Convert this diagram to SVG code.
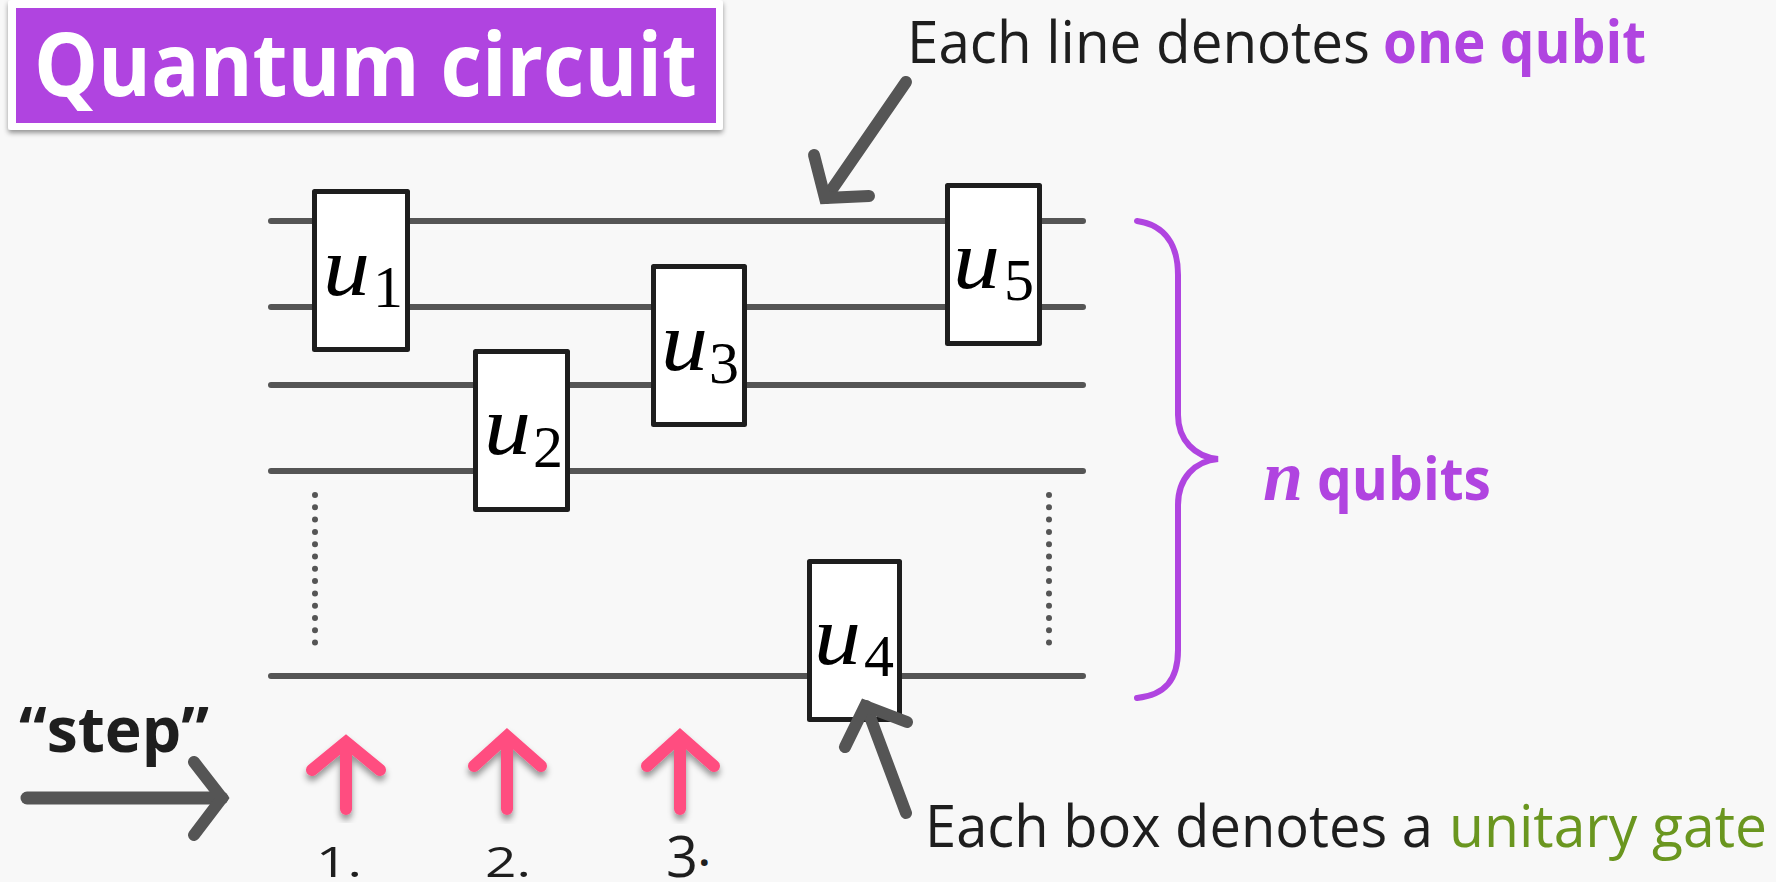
<svg xmlns="http://www.w3.org/2000/svg" width="1776" height="882" viewBox="0 0 1776 882">
<defs>
<filter id="panelShadow" x="-5%" y="-10%" width="110%" height="125%"><feDropShadow dx="0" dy="3" stdDeviation="2.5" flood-color="#000" flood-opacity="0.4"/></filter>
<filter id="pinkShadow" x="-40%" y="-20%" width="180%" height="140%"><feDropShadow dx="0" dy="5" stdDeviation="3" flood-color="#000" flood-opacity="0.4"/></filter>
</defs>
<style>
.bg{fill:#f8f8f8}
.wire{stroke:#555;stroke-width:6;stroke-linecap:round;fill:none}
.dots{stroke:#555;stroke-width:6;stroke-linecap:round;stroke-dasharray:0 12.3;fill:none}
.gate{fill:#fff;stroke:#1e1e1e;stroke-width:5;stroke-linejoin:round}
.arrow{stroke:#555;stroke-width:12;stroke-linecap:round;stroke-linejoin:miter;stroke-miterlimit:10;fill:none}
.pink{stroke:#ff4d80;stroke-width:12;stroke-linecap:round;stroke-linejoin:miter;stroke-miterlimit:10;fill:none;filter:url(#pinkShadow)}
.brace{stroke:#b044e0;stroke-width:6;stroke-linecap:round;fill:none}
.t{font-family:"Open Sans","Noto Sans",sans-serif;fill:#1e1e1e}
.u{font-family:"Liberation Serif",serif;font-style:italic;font-size:84px;fill:#000}
.s{font-family:"Liberation Serif",serif;font-size:60px;fill:#000}
.p{font-weight:700}
</style>
<rect class="bg" width="1776" height="882"/>
<g id="title">
<rect x="8" y="0" width="715" height="130" rx="3" fill="#fff" filter="url(#panelShadow)"/>
<rect x="16" y="8" width="700" height="115" fill="#b044e0"/>
<text class="t" x="34" y="96" font-size="88" font-weight="700" style="fill:#fff" textLength="663" lengthAdjust="spacingAndGlyphs">Quantum circuit</text>
</g>
<g id="connectors">
<path class="wire" d="M271 221H1083M271 307H1083M271 385H1083M271 471H1083M271 676H1083"/>
<path class="dots" d="M315 495V648M1049 495V648"/>
</g>
<g id="u1"><rect class="gate" x="314.500" y="191.500" width="93" height="158"/><text class="u" x="323" y="295" textLength="47" lengthAdjust="spacingAndGlyphs">u</text><text class="s" x="373" y="307">1</text></g>
<g id="u2"><rect class="gate" x="475.500" y="351.500" width="92" height="158"/><text class="u" x="484" y="454" textLength="47" lengthAdjust="spacingAndGlyphs">u</text><text class="s" x="533" y="467">2</text></g>
<g id="u3"><rect class="gate" x="653.500" y="266.500" width="91" height="158"/><text class="u" x="661" y="370" textLength="47" lengthAdjust="spacingAndGlyphs">u</text><text class="s" x="709" y="383">3</text></g>
<g id="u4"><rect class="gate" x="809.500" y="561.500" width="90" height="158"/><text class="u" x="814" y="664" textLength="47" lengthAdjust="spacingAndGlyphs">u</text><text class="s" x="864" y="676">4</text></g>
<g id="u5"><rect class="gate" x="947.500" y="185.500" width="92" height="158"/><text class="u" x="953" y="288" textLength="47" lengthAdjust="spacingAndGlyphs">u</text><text class="s" x="1004" y="300">5</text></g>
<g id="annotations">
<path class="brace" d="M1137 221C1165 225 1178 245 1178 275V415C1178 440 1195 457 1218 459C1195 461 1178 478 1178 505V650C1178 680 1165 695 1137 698"/>
<path class="arrow" d="M906 82L826 198"/>
<path class="arrow" d="M814 155L825 198L869 196"/>
<path class="arrow" d="M906 813L866 706"/>
<path class="arrow" d="M845 747L865 706L907 722"/>
<path class="arrow" style="stroke-width:13" d="M27 798H222"/>
<path class="arrow" d="M194 762L222 798L194 835"/>
<g class="pink"><path d="M346 742V809M312 770L346 742L380 770"/></g>
<g class="pink"><path d="M507 736V809M474 766L507 736L541 766"/></g>
<g class="pink"><path d="M680 736V809M647 766L680 736L714 766"/></g>
</g>
<g id="labels">
<text class="t" x="907" y="63" font-size="59" textLength="463" lengthAdjust="spacingAndGlyphs">Each line denotes</text>
<text class="t p" x="1383" y="63" font-size="59" style="fill:#b044e0" textLength="263" lengthAdjust="spacingAndGlyphs">one qubit</text>
<text class="t" x="925" y="847" font-size="58" textLength="508" lengthAdjust="spacingAndGlyphs">Each box denotes a</text>
<text class="t" x="1449" y="847" font-size="58" style="fill:#6a961f" textLength="318" lengthAdjust="spacingAndGlyphs">unitary gate</text>
<text class="t" x="19" y="752" font-size="62" font-weight="700" textLength="190" lengthAdjust="spacingAndGlyphs">“step”</text>
<text x="1263" y="500" font-family="Liberation Serif,serif" font-style="italic" font-weight="700" font-size="72" fill="#b044e0">n</text>
<text class="t p" x="1317" y="500" font-size="59" style="fill:#b044e0" textLength="174" lengthAdjust="spacingAndGlyphs">qubits</text>
<text class="t" x="316" y="877" font-size="42" textLength="46" lengthAdjust="spacingAndGlyphs">1.</text>
<text class="t" x="485" y="877" font-size="42" textLength="46" lengthAdjust="spacingAndGlyphs">2.</text>
<text class="t" x="666" y="877" font-size="56">3<tspan dy="-11" font-size="46" font-weight="600">.</tspan></text>
</g>
</svg>
